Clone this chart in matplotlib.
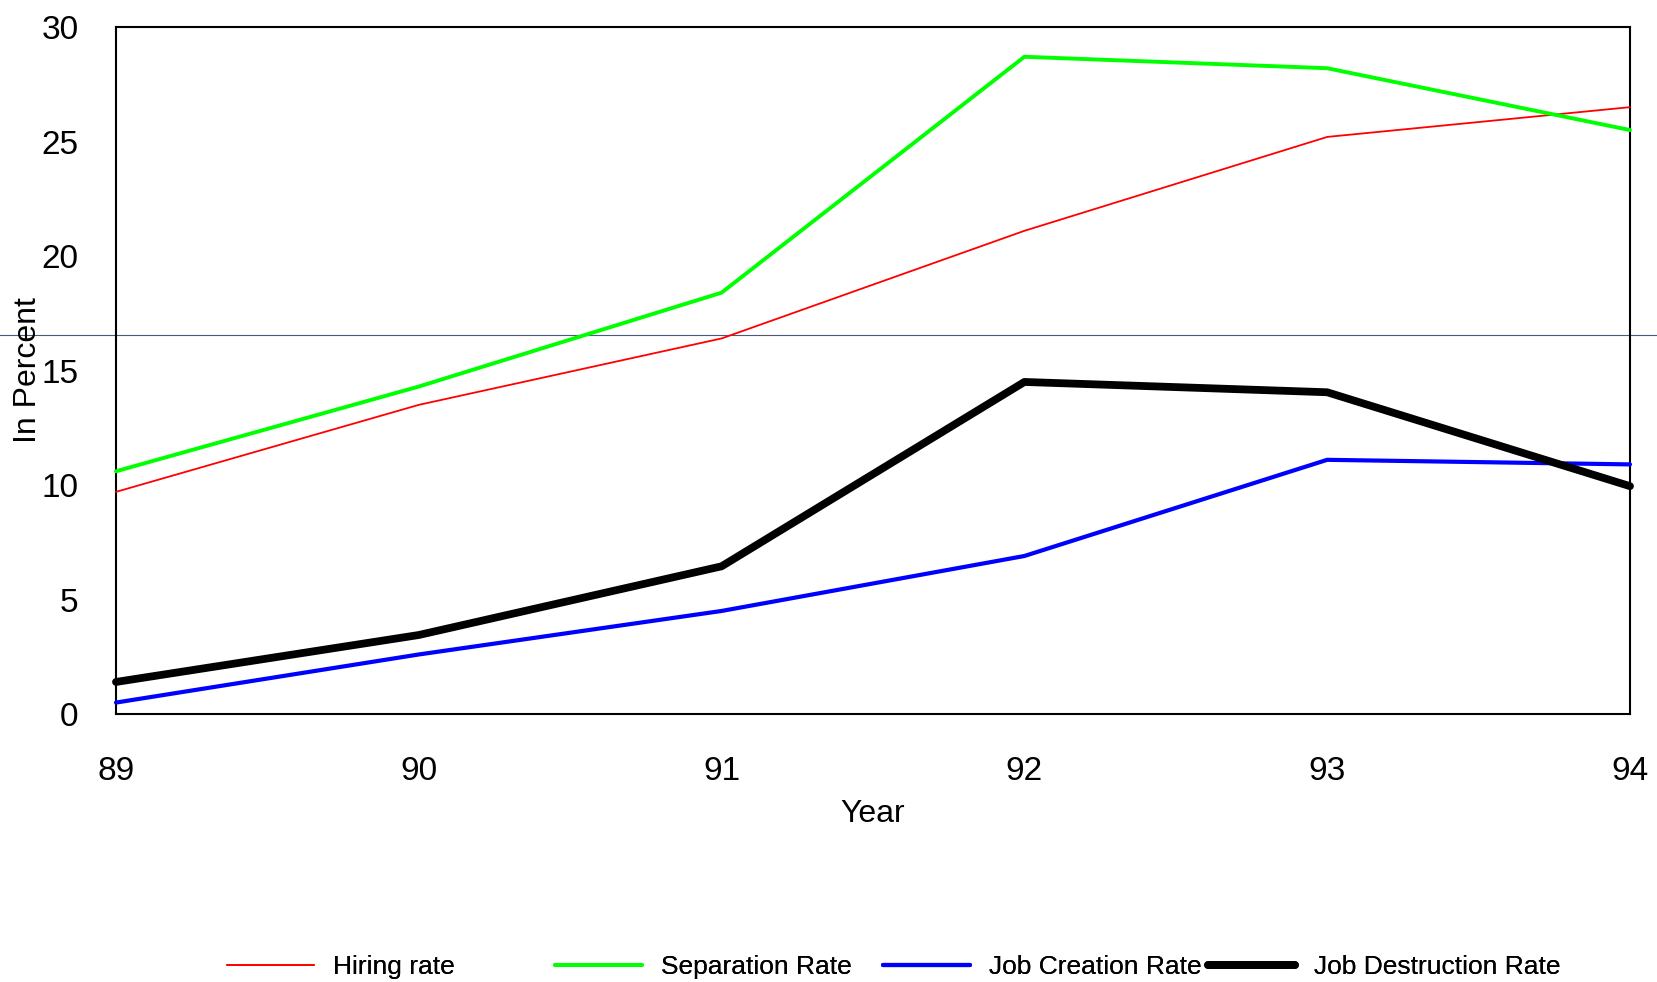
import matplotlib
matplotlib.use("Agg")
import matplotlib.pyplot as plt


# =========================================================
# Data
# =========================================================

years = [89, 90, 91, 92, 93, 94]

hiring_rate = [9.7, 13.5, 16.4, 21.1, 25.2, 26.5]
separation_rate = [10.6, 14.3, 18.4, 28.7, 28.2, 25.5]
job_creation_rate = [0.5, 2.6, 4.5, 6.9, 11.1, 10.9]
job_destruction_rate = [1.4, 3.45, 6.45, 14.5, 14.05, 9.95]

y_ticks = [0, 5, 10, 15, 20, 25, 30]

# stray horizontal guide line seen across the figure
guide_level = 16.55


plt.rcParams["font.family"] = ["Liberation Sans", "DejaVu Sans"]


# =========================================================
# Figure
# =========================================================

fig = plt.figure(
    figsize=(16.57, 9.82),
    dpi=100
)

ax = fig.add_axes(
    [0.070, 0.2729, 0.9137, 0.6996]
)


series = [
    ("Hiring rate", hiring_rate, "#ff0000", 1.3),
    ("Separation Rate", separation_rate, "#00ff00", 2.8),
    ("Job Creation Rate", job_creation_rate, "#0000ff", 3.0),
    ("Job Destruction Rate", job_destruction_rate, "#000000", 5.6),
]

lines = []

for label, values, color, lw in series:

    line, = ax.plot(
        years,
        values,
        color=color,
        linewidth=lw,
        solid_capstyle="round",
        label=label,
        clip_on=False,
        zorder=3
    )

    lines.append(line)


ax.axhline(
    guide_level,
    xmin=-0.077,
    xmax=1.02,
    color="#4a5a7a",
    linewidth=0.8,
    clip_on=False,
    zorder=1
)


ax.set_xlim(
    years[0],
    years[-1]
)

ax.set_ylim(
    0,
    30
)

ax.set_xticks(years)
ax.set_yticks(y_ticks)

ax.tick_params(
    axis="both",
    length=0,
    labelsize=24
)

ax.tick_params(
    axis="x",
    pad=30
)

ax.tick_params(
    axis="y",
    pad=27
)

for spine in ax.spines.values():
    spine.set_linewidth(1.5)
    spine.set_color("black")


ax.set_xlabel(
    "Year",
    fontsize=23
)

ax.xaxis.set_label_coords(
    0.5,
    -0.123
)

ax.set_ylabel(
    "In Percent",
    fontsize=23
)

ax.yaxis.set_label_coords(
    -0.048,
    0.5
)


# =========================================================
# Legend (one entry per slot, evenly spaced)
# =========================================================

legend_x = [0.137, 0.335, 0.533, 0.729]

for line, x in zip(lines, legend_x):

    leg = fig.legend(
        handles=[line],
        loc="center left",
        bbox_to_anchor=(x, 0.015),
        frameon=False,
        fontsize=19,
        handlelength=3.3,
        handletextpad=0.72,
        borderpad=0,
        borderaxespad=0
    )

    fig.add_artist(leg)


plt.savefig(
    "out.png",
    dpi=100
)

plt.close()
